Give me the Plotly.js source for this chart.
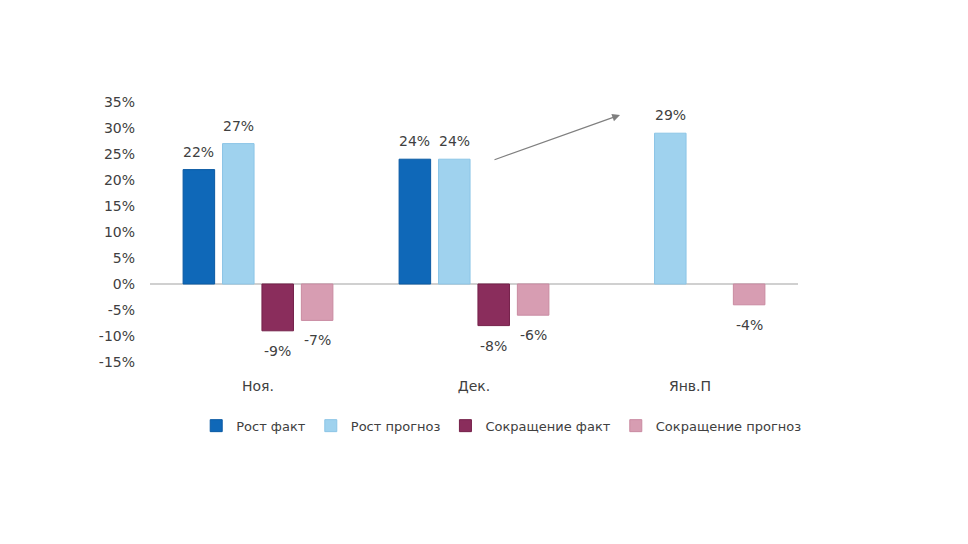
<!DOCTYPE html>
<html>
<head>
<meta charset="utf-8">
<script src="https://cdn.plot.ly/plotly-3.0.1.min.js"></script>
<style>html,body{margin:0;padding:0;background:#fff;}#chart{width:968px;height:544px;}</style>
</head>
<body>
<div id="chart"></div>
<script>
const categories = ["Ноя.", "Дек.", "Янв.П"];
const seriesNames = ["Рост факт", "Рост прогноз", "Сокращение факт", "Сокращение прогноз"];
const growthFact = [22, 24, null];
const growthForecast = [27, 24, 29];
const cutFact = [-9, -8, null];
const cutForecast = [-7, -6, -4];
const yTickVals = [-15, -10, -5, 0, 5, 10, 15, 20, 25, 30, 35];
const yTickText = ["-15%", "-10%", "-5%", "0%", "5%", "10%", "15%", "20%", "25%", "30%", "35%"];
const colors = ["#0f68b8", "#9fd2ee", "#8a2d5c", "#d79db2"];
const lineColors = ["#0a5aa3", "#8cc5e6", "#742049", "#c98aa1"];

const FONT = "'DejaVu Sans', Verdana, sans-serif";
const TXT = "#404040";
const margin = {l: 150, r: 170, t: 102, b: 182};
const W = 968, H = 544;
const bargap = 0.27;

const seriesValues = [growthFact, growthForecast, cutFact, cutForecast];
const traces = seriesValues.map((vals, i) => ({
  type: "bar",
  name: seriesNames[i],
  x: categories,
  y: vals,
  marker: {color: colors[i], line: {color: lineColors[i], width: 1}},
  hoverinfo: "skip"
}));

// data labels placed at each bar's value, shifted to its slot in the group
const catPx = (W - margin.l - margin.r) / categories.length;
const slotPx = catPx * (1 - bargap) / seriesValues.length;
const labels = [];
seriesValues.forEach((vals, i) => {
  vals.forEach((v, j) => {
    if (v === null) return;
    labels.push({
      xref: "x", yref: "y", x: categories[j], y: v,
      xshift: (i - (seriesValues.length - 1) / 2) * slotPx,
      yshift: v >= 0 ? 18 : -20,
      text: v + "%", showarrow: false, yanchor: "middle",
      font: {family: FONT, size: 14, color: TXT}
    });
  });
});

const layout = {
  width: W, height: H,
  paper_bgcolor: "#ffffff", plot_bgcolor: "#ffffff",
  margin: margin,
  barmode: "group",
  bargap: bargap,
  bargroupgap: 0.2,
  font: {family: FONT, size: 14, color: TXT},
  showlegend: true,
  legend: {orientation: "h", x: 0.542, xanchor: "center", y: -0.245, yanchor: "middle",
           font: {family: FONT, size: 13, color: TXT}, itemwidth: 30, traceorder: "normal"},
  xaxis: {showgrid: false, showline: false, zeroline: false, ticks: "", ticklabelstandoff: 14,
          tickfont: {family: FONT, size: 14, color: TXT}},
  yaxis: {range: [-15, 35], tickmode: "array", tickvals: yTickVals, ticktext: yTickText,
          showgrid: false, showline: false,
          zeroline: true, zerolinecolor: "#d0d0d0", zerolinewidth: 2, ticks: "",
          ticklabelstandoff: 14, tickfont: {family: FONT, size: 14, color: TXT}, automargin: false},
  annotations: labels.concat([{
    xref: "x", yref: "y", axref: "x", ayref: "y",
    x: 1.676, y: 32.5, ax: 1.088, ay: 23.8,
    text: "", showarrow: true, arrowhead: 2, arrowsize: 1.3, arrowwidth: 1.2, arrowcolor: "#7f7f7f"
  }])
};

Plotly.newPlot("chart", traces, layout, {displayModeBar: false, staticPlot: true});
</script>
</body>
</html>
